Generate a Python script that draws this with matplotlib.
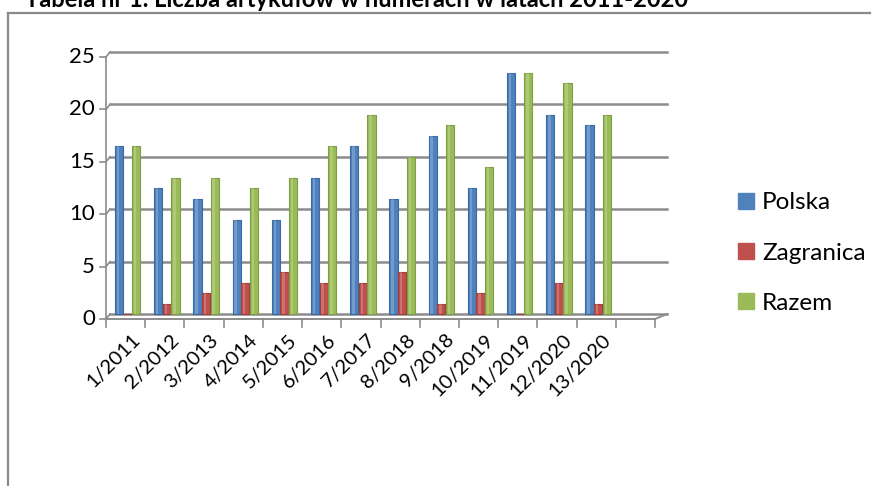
import matplotlib.pyplot as plt
import numpy as np
from matplotlib.lines import Line2D
from matplotlib.patches import Rectangle

categories = ["1/2011", "2/2012", "3/2013", "4/2014", "5/2015", "6/2016", "7/2017",
              "8/2018", "9/2018", "10/2019", "11/2019", "12/2020", "13/2020"]
polska = [16, 12, 11, 9, 9, 13, 16, 11, 17, 12, 23, 19, 18]
zagranica = [0, 1, 2, 3, 4, 3, 3, 4, 1, 2, 0, 3, 1]
razem = [16, 13, 13, 12, 13, 16, 19, 15, 18, 14, 23, 22, 19]
n_slots = 14  # Excel left one empty slot at the end
y_ticks = [0, 5, 10, 15, 20, 25]

BLUE, RED, GREEN = "#4F81BD", "#C0504D", "#9BBB59"
EDGES = {BLUE: "#3a6aa5", RED: "#a23d3a", GREEN: "#7f9e44"}
GRID = "#8c8c8c"

plt.rcParams["font.family"] = ["Lato", "DejaVu Sans"]

W, H = 874, 486
fig = plt.figure(figsize=(W / 100, H / 100), dpi=100)

# axes placed in pixel terms (back wall of the pseudo-3D chart)
left_px, right_px, y0_px, y25_px = 110, 659, 314, 52
ax = fig.add_axes([left_px / W, 1 - y0_px / H, (right_px - left_px) / W, (y0_px - y25_px) / H])
ax.set_xlim(0, n_slots)
ax.set_ylim(0, 25)
ax.axis("off")

# offset of the front edge, expressed in data units
ux = (right_px - left_px) / n_slots
uy = (y0_px - y25_px) / 25
fdx, fdy = -4 / ux, -5 / uy
depth_x = 8 / ux

# back wall gridlines
for v in y_ticks:
    ax.plot([0, n_slots + depth_x], [v, v], color=GRID, lw=1.8, clip_on=False, zorder=1)
    # connector from front axis to back wall
    ax.plot([fdx, 0], [v + fdy, v], color=GRID, lw=1.2, clip_on=False, zorder=1)
    ax.plot([fdx - 6 / ux, fdx], [v + fdy, v + fdy], color=GRID, lw=1.2, clip_on=False)
    ax.text(fdx - 11 / ux, v + fdy, str(v), ha="right", va="center", fontsize=16, color="black")

# front vertical axis
ax.plot([fdx, fdx], [fdy, 25 + fdy], color=GRID, lw=1.2, clip_on=False)

# floor front edge with category ticks
ax.plot([fdx, n_slots + fdx], [fdy, fdy], color=GRID, lw=1.4, clip_on=False)
ax.plot([n_slots + fdx, n_slots + depth_x], [fdy, 0], color=GRID, lw=1.4, clip_on=False)
for k in range(n_slots + 1):
    ax.plot([k + fdx, k + fdx], [fdy, fdy - 8 / uy], color=GRID, lw=1.2, clip_on=False)

# bars
x = np.arange(len(categories)) + 0.5 + fdx / 2
bw = 0.21
for vals, col, off, lab in [(polska, BLUE, -0.22, "Polska"),
                            (zagranica, RED, 0.0, "Zagranica"),
                            (razem, GREEN, 0.22, "Razem")]:
    ax.bar(x + off, vals, width=bw, color=col, edgecolor=EDGES[col], linewidth=0.8,
           label=lab, zorder=3, clip_on=False)
    # soft highlight to hint at the cylinder shading
    ax.bar(x + off - bw * 0.12, vals, width=bw * 0.3, color="white", alpha=0.2,
           linewidth=0, zorder=4, clip_on=False)

# rotated category labels
for i, lab in enumerate(categories):
    ax.text(i + 0.5 + fdx + 0.15, fdy - 12 / uy, lab, rotation=45, ha="right", va="top",
            rotation_mode="anchor", fontsize=14.5, color="black")

handles = [Rectangle((0, 0), 1, 1, color=c) for c in (BLUE, RED, GREEN)]
fig.legend(handles, ["Polska", "Zagranica", "Razem"], loc="center left",
           bbox_to_anchor=(716 / W, 1 - 253 / H), frameon=False, fontsize=17.5,
           handlelength=0.65, handleheight=0.65, handletextpad=0.35, labelspacing=1.2)

# outer chart border (left and top visible)
fig.add_artist(Line2D([8 / W, 8 / W], [0, 1 - 13 / H], transform=fig.transFigure,
                      color="#8a8a8a", lw=1.6))
fig.add_artist(Line2D([8 / W, 870 / W], [1 - 13 / H, 1 - 13 / H], transform=fig.transFigure,
                      color="#8a8a8a", lw=1.6))

# title sits partly above the page edge, as in the source scan
fig.text(25 / W, 1 - 7 / H, "Tabela nr 1. Liczba artykułów w numerach w latach 2011-2020",
         fontsize=17, fontweight="bold", ha="left", va="baseline")

fig.savefig("out.png", dpi=100)
